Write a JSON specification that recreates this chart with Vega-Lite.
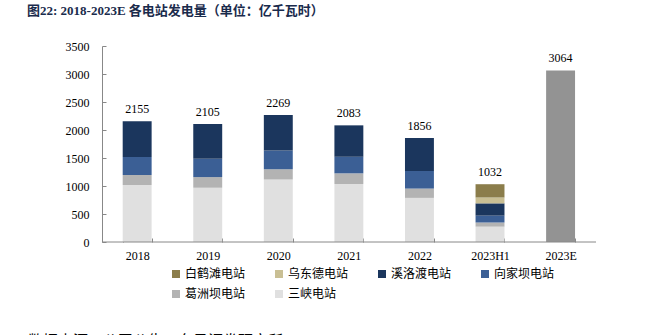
{
  "$schema": "https://vega.github.io/schema/vega-lite/v6.json",
  "padding": {"left": 20, "top": 5, "right": 0, "bottom": 0},
  "background": "white",
  "config": {
    "view": {"stroke": null},
    "font": "Liberation Serif",
    "axisY": {
      "values": [0, 500, 1000, 1500, 2000, 2500, 3000, 3500],
      "format": "d",
      "labelOverlap": false,
      "grid": false,
      "labelFont": "Liberation Serif",
      "labelFontSize": 12,
      "labelColor": "black",
      "domainColor": "#888888",
      "tickColor": "#888888",
      "tickSize": -4,
      "labelPadding": 17,
      "title": null
    }
  },
  "datasets": {
    "gen": [
      {"year": "2018", "station": "三峡电站", "value": 1016},
      {"year": "2018", "station": "葛洲坝电站", "value": 182},
      {"year": "2018", "station": "向家坝电站", "value": 322},
      {"year": "2018", "station": "溪洛渡电站", "value": 635},
      {"year": "2019", "station": "三峡电站", "value": 969},
      {"year": "2019", "station": "葛洲坝电站", "value": 190},
      {"year": "2019", "station": "向家坝电站", "value": 326},
      {"year": "2019", "station": "溪洛渡电站", "value": 620},
      {"year": "2020", "station": "三峡电站", "value": 1118},
      {"year": "2020", "station": "葛洲坝电站", "value": 180},
      {"year": "2020", "station": "向家坝电站", "value": 334},
      {"year": "2020", "station": "溪洛渡电站", "value": 637},
      {"year": "2021", "station": "三峡电站", "value": 1036},
      {"year": "2021", "station": "葛洲坝电站", "value": 190},
      {"year": "2021", "station": "向家坝电站", "value": 296},
      {"year": "2021", "station": "溪洛渡电站", "value": 561},
      {"year": "2022", "station": "三峡电站", "value": 788},
      {"year": "2022", "station": "葛洲坝电站", "value": 166},
      {"year": "2022", "station": "向家坝电站", "value": 316},
      {"year": "2022", "station": "溪洛渡电站", "value": 586},
      {"year": "2023H1", "station": "三峡电站", "value": 274},
      {"year": "2023H1", "station": "葛洲坝电站", "value": 74},
      {"year": "2023H1", "station": "向家坝电站", "value": 123},
      {"year": "2023H1", "station": "溪洛渡电站", "value": 219},
      {"year": "2023H1", "station": "乌东德电站", "value": 105},
      {"year": "2023H1", "station": "白鹤滩电站", "value": 237},
      {"year": "2023E", "station": "合计", "value": 3064}
    ],
    "span": [{"from": "2018", "to": "2023E"}]
  },
  "columns": 1,
  "align": "none",
  "spacing": 7,
  "resolve": {"scale": {"color": "independent"}, "legend": {"color": "independent"}},
  "concat": [
    {
      "width": 643,
      "height": 2,
      "data": {"values": [{}]},
      "mark": {"type": "text", "text": ""},
      "encoding": {},
      "title": {
        "text": "图22:  2018-2023E 各电站发电量（单位：亿千瓦时）",
        "anchor": "start",
        "font": "Liberation Serif, Noto Sans CJK SC",
        "fontSize": 13,
        "fontWeight": "bold",
        "color": "#1a2b4c",
        "offset": 4,
        "dx": 7
      }
    },
    {
      "columns": 1,
      "align": "none",
      "spacing": 14,
      "resolve": {"scale": {"color": "independent"}, "legend": {"color": "independent"}},
      "concat": [
        {
          "width": 593.5,
          "height": 196,
          "layer": [
            {
              "data": {"name": "gen"},
              "transform": [
                {"calculate": "indexof(['三峡电站','葛洲坝电站','向家坝电站','溪洛渡电站','乌东德电站','白鹤滩电站','合计'], datum.station)", "as": "stackOrder"}
              ],
              "mark": {"type": "bar"},
              "encoding": {
                "x": {
                  "field": "year",
                  "type": "nominal",
                  "title": null,
                  "scale": {
                    "domain": ["2018", "2019", "2020", "2021", "2022", "2023H1", "2023E"],
                    "paddingInner": 0.59, "paddingOuter": 1, "align": 0.7276
                  },
                  "axis": {
                    "labelAngle": 0,
                    "labelFont": "Liberation Serif",
                    "labelFontSize": 12,
                    "labelColor": "black",
                    "domain": false,
                    "tickColor": "#888888",
                    "tickBand": "extent",
                    "tickSize": -4,
                    "labelPadding": 12
                  }
                },
                "y": {
                  "field": "value",
                  "type": "quantitative",
                  "aggregate": "sum",
                  "stack": "zero",
                  "title": null,
                  "scale": {"domain": [0, 3500]},
                  "axis": {"offset": -82}
                },
                "order": {"field": "stackOrder", "type": "quantitative", "sort": "ascending"},
                "color": {
                  "field": "station",
                  "type": "nominal",
                  "scale": {
                    "domain": ["白鹤滩电站", "乌东德电站", "溪洛渡电站", "向家坝电站", "葛洲坝电站", "三峡电站", "合计"],
                    "range": ["#8b7d4b", "#c9bf94", "#1b365d", "#3b5f95", "#b3b3b3", "#e0e0e0", "#939393"]
                  },
                  "legend": {
                    "values": ["白鹤滩电站", "乌东德电站", "溪洛渡电站", "向家坝电站", "葛洲坝电站", "三峡电站"],
                    "title": null,
                    "orient": "none",
                    "legendX": 150,
                    "legendY": 222,
                    "direction": "horizontal",
                    "columns": 4,
                    "symbolType": "square",
                    "symbolSize": 64,
                    "symbolStrokeWidth": 0,
                    "labelFont": "Noto Sans CJK SC",
                    "labelFontSize": 12,
                    "labelColor": "black",
                    "labelOffset": 3,
                    "columnPadding": 27,
                    "rowPadding": 8
                  }
                }
              }
            },
            {
              "data": {"name": "gen"},
              "transform": [{"aggregate": [{"op": "sum", "field": "value", "as": "total"}], "groupby": ["year"]}],
              "mark": {"type": "text", "baseline": "bottom", "dy": -5, "font": "Liberation Serif", "fontSize": 12, "color": "black"},
              "encoding": {
                "x": {"field": "year", "type": "nominal"},
                "y": {"field": "total", "type": "quantitative", "axis": {"offset": -82}},
                "text": {"field": "total", "type": "quantitative"}
              }
            },
            {
              "data": {"name": "span"},
              "mark": {"type": "rule", "color": "#888888", "strokeWidth": 1},
              "encoding": {
                "x": {"field": "from", "type": "nominal", "bandPosition": -0.716},
                "x2": {"field": "to", "bandPosition": 1.725},
                "y": {"datum": 0, "type": "quantitative", "axis": {"offset": -82}}
              }
            }
          ]
        },
        {
          "width": 643,
          "height": 2,
          "data": {"values": [{}]},
          "mark": {"type": "text", "text": ""},
          "encoding": {},
          "title": {
            "text": "数据来源：公司公告，东吴证券研究所",
            "orient": "bottom",
            "anchor": "start",
            "font": "Noto Sans CJK SC",
            "fontSize": 15,
            "fontWeight": "normal",
            "color": "black",
            "offset": 9,
            "dx": 8
          }
        }
      ]
    }
  ]
}
